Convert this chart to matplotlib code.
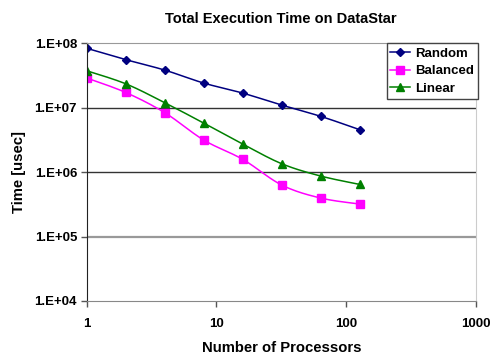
import numpy as np
import matplotlib.pyplot as plt
from matplotlib.ticker import FuncFormatter, FixedLocator, NullLocator

plt.rcParams['font.family'] = ['Liberation Sans', 'DejaVu Sans']

# data
procs = [1, 2, 4, 8, 16, 32, 64, 128]
random_t = [8.4e7, 5.6e7, 3.85e7, 2.42e7, 1.69e7, 1.10e7, 7.35e6, 4.56e6]
balanced_t = [2.9e7, 1.73e7, 8.4e6, 3.15e6, 1.58e6, 6.3e5, 3.96e5, 3.2e5]
linear_t = [3.76e7, 2.36e7, 1.2e7, 5.78e6, 2.73e6, 1.35e6, 8.7e5, 6.45e5]


def smooth(x, y, n=20):
    # Excel-style smoothed line (Catmull-Rom bezier) in log-log space
    lx = np.log10(x)
    ly = np.log10(y)
    pts = np.column_stack([lx, ly])
    out = []
    for i in range(len(pts) - 1):
        p0 = pts[max(i - 1, 0)]
        p1 = pts[i]
        p2 = pts[i + 1]
        p3 = pts[min(i + 2, len(pts) - 1)]
        c1 = p1 + (p2 - p0) / 6
        c2 = p2 - (p3 - p1) / 6
        t = np.linspace(0, 1, n)[:, None]
        seg = ((1 - t) ** 3 * p1 + 3 * (1 - t) ** 2 * t * c1
               + 3 * (1 - t) * t ** 2 * c2 + t ** 3 * p2)
        out.append(seg if i == 0 else seg[1:])
    out = np.vstack(out)
    return 10 ** out[:, 0], 10 ** out[:, 1]


fig = plt.figure(figsize=(4.9, 3.56), dpi=100)
ax = fig.add_axes([0.177, 0.1545, 0.794, 0.7235])

series = [
    ("Random", random_t, "#000080", "D", 4),
    ("Balanced", balanced_t, "#FF00FF", "s", 5.5),
    ("Linear", linear_t, "#008000", "^", 6),
]
for name, vals, col, mk, ms in series:
    sx, sy = smooth(procs, vals)
    ax.plot(sx, sy, color=col, lw=1.1)
    ax.plot(procs, vals, linestyle='none', marker=mk, ms=ms, color=col,
            markeredgecolor=col)
    ax.plot([], [], color=col, lw=1.1, marker=mk, ms=ms, label=name)

ax.set_xscale('log')
ax.set_yscale('log')
ax.set_xlim(1, 1000)
ax.set_ylim(1e4, 1e8)

ax.xaxis.set_major_locator(FixedLocator([1, 10, 100, 1000]))
ax.xaxis.set_minor_locator(NullLocator())
ax.yaxis.set_major_locator(FixedLocator([1e4, 1e5, 1e6, 1e7, 1e8]))
ax.yaxis.set_minor_locator(NullLocator())
ax.xaxis.set_major_formatter(FuncFormatter(lambda v, p: "%d" % round(v)))
ax.yaxis.set_major_formatter(
    FuncFormatter(lambda v, p: "1.E+%02d" % round(np.log10(v))))

for yv in [1e5, 1e6, 1e7]:
    ax.axhline(yv, color='#333333' if yv != 1e5 else '#999999',
               lw=1.0 if yv != 1e5 else 1.6, zorder=0)

ax.spines['left'].set_color('#222222')
ax.spines['bottom'].set_color('#888888')
ax.spines['top'].set_color('#999999')
ax.spines['right'].set_color('#cccccc')
ax.tick_params(axis='both', direction='out', length=4, width=1,
               color='#555555', labelsize=9.5)
ax.tick_params(axis='x', pad=8)
ax.tick_params(axis='y', pad=3)
for lab in ax.get_xticklabels() + ax.get_yticklabels():
    lab.set_fontweight('bold')

ax.set_title("Total Execution Time on DataStar", fontsize=10.5, fontweight='bold',
             pad=15)
ax.set_xlabel("Number of Processors", fontsize=10.7, fontweight='bold', labelpad=8)
ax.set_ylabel("Time [usec]", fontsize=10.7, fontweight='bold', labelpad=6)

leg = ax.legend(loc='upper right', bbox_to_anchor=(1.005, 1.0), fancybox=False,
                framealpha=1, edgecolor='#444444', fontsize=9.5,
                handlelength=1.5, borderpad=0.3, labelspacing=0.4,
                handletextpad=0.35, borderaxespad=0)
leg.get_frame().set_linewidth(1.0)
for t in leg.get_texts():
    t.set_fontweight('bold')

fig.savefig("out.png", dpi=100)
